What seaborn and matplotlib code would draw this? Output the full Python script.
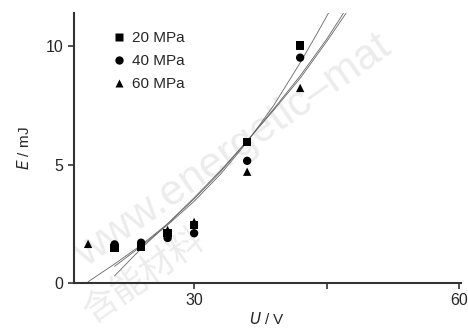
import numpy as np
import pandas as pd
import matplotlib
matplotlib.use("Agg")
import matplotlib.pyplot as plt
import seaborn as sns

# measured points (U in V, E in mJ)
u_20 = [21, 24, 27, 30, 36, 42]
e_20 = [1.47, 1.52, 2.10, 2.45, 5.96, 10.04]
u_40 = [21, 24, 27, 30, 36, 42]
e_40 = [1.63, 1.70, 1.90, 2.10, 5.16, 9.52]
u_60 = [18, 21, 24, 27, 30, 36, 42]
e_60 = [1.65, 1.55, 1.60, 2.24, 2.58, 4.70, 8.24]

# fitted curves
fit1_u = [21, 24, 27, 30, 33, 36, 39, 42, 44, 45.2]
fit1_e = [0.70, 1.55, 2.45, 3.45, 4.60, 5.95, 7.50, 9.30, 10.60, 11.40]
fit2_u = [21, 24, 27, 30, 33, 36, 39, 42, 45, 47.2]
fit2_e = [0.30, 1.45, 2.50, 3.60, 4.75, 6.00, 7.30, 8.65, 10.20, 11.40]
fit3_u = [18, 21, 24, 27, 30, 33, 36, 39, 42, 45, 46.9]
fit3_e = [0.05, 0.80, 1.60, 2.50, 3.55, 4.70, 6.00, 7.35, 8.75, 10.30, 11.40]

sns.set_theme(style="ticks")
plt.rcParams['font.family'] = ['Liberation Sans', 'Noto Sans CJK SC', 'DejaVu Sans']

fig = plt.figure(figsize=(4.68, 3.29), dpi=100)
ax = fig.add_axes([0.158, 0.140, 0.827, 0.820])

# faint watermark (kept behind everything)
ax.text(0.045, 0.03, "www.energetic\u2013mat", transform=ax.transAxes, rotation=35,
        fontsize=31, color="#ececec", ha="left", va="bottom", zorder=0,
        rotation_mode="anchor", clip_on=False)
ax.text(0.06, -0.17, "含能材料", transform=ax.transAxes, rotation=35,
        fontsize=25, color="#ececec", ha="left", va="bottom", zorder=0,
        rotation_mode="anchor", clip_on=False)

for fu, fe in [(fit1_u, fit1_e), (fit2_u, fit2_e), (fit3_u, fit3_e)]:
    sns.lineplot(x=fu, y=fe, ax=ax, color="#666666", lw=0.6, zorder=2)

pts = pd.concat([
    pd.DataFrame({'U': u_60, 'E': e_60, 'p': '60 MPa'}),
    pd.DataFrame({'U': u_40, 'E': e_40, 'p': '40 MPa'}),
    pd.DataFrame({'U': u_20, 'E': e_20, 'p': '20 MPa'}),
])
sns.scatterplot(data=pts, x='U', y='E', style='p', hue='p',
                style_order=['20 MPa', '40 MPa', '60 MPa'],
                hue_order=['20 MPa', '40 MPa', '60 MPa'],
                markers={'20 MPa': 's', '40 MPa': 'o', '60 MPa': '^'},
                palette=['black', 'black', 'black'], s=36, edgecolor='none',
                ax=ax, zorder=3)

ax.set_xlim(16.4, 60.2)
ax.set_ylim(0, 11.4)
ax.set_xticks([30, 45, 60])
ax.set_xticklabels(['30', '', '60'])
ax.set_yticks([0, 5, 10])
ax.tick_params(labelsize=11.5, length=4, width=1.2, color="#333333", direction='out')
for side in ['left', 'bottom']:
    ax.spines[side].set_linewidth(1.5)
    ax.spines[side].set_color("#333333")
sns.despine(ax=ax)

ax.set_xlabel(r"$\it{U}$ / V", fontsize=11, labelpad=2)
ax.set_ylabel(r"$\it{E}$ / mJ", fontsize=11, labelpad=10)

leg = ax.legend(loc='upper left', bbox_to_anchor=(0.06, 0.985), frameon=False,
                fontsize=11, handletextpad=0.35, labelspacing=0.6,
                handlelength=1.0, markerscale=1.0)

fig.savefig("out.png", dpi=100)
